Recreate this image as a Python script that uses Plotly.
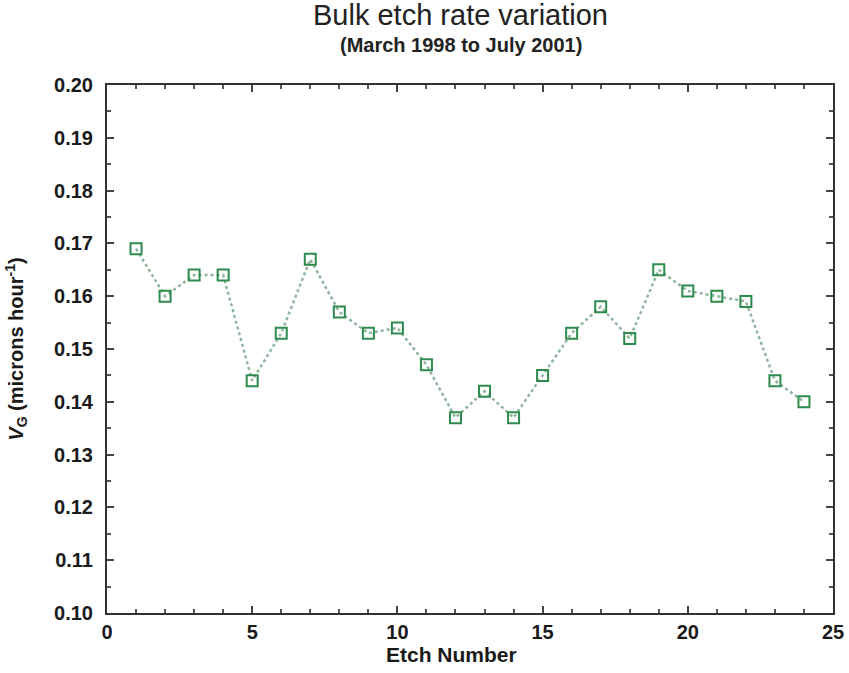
import plotly.graph_objects as go

etch_number = list(range(1, 25))
vg = [0.169, 0.160, 0.164, 0.164, 0.144, 0.153, 0.167, 0.157, 0.153, 0.154,
      0.147, 0.137, 0.142, 0.137, 0.145, 0.153, 0.158, 0.152, 0.165, 0.161,
      0.160, 0.159, 0.144, 0.140]

x_ticks = [0, 5, 10, 15, 20, 25]
y_ticks = [0.10, 0.11, 0.12, 0.13, 0.14, 0.15, 0.16, 0.17, 0.18, 0.19, 0.20]

FONT = "Liberation Sans, Arial, sans-serif"

fig = go.Figure()
fig.add_trace(go.Scatter(
    x=etch_number, y=vg, mode="lines+markers",
    line=dict(color="#8fb59c", width=2.5, dash="dot"),
    marker=dict(symbol="square-open", size=11, color="#2e8b4e", line=dict(width=2, color="#2e8b4e")),
    showlegend=False,
))

axis_common = dict(
    showline=True, linecolor="#333333", linewidth=2, mirror="ticks",
    ticks="inside", tickcolor="#444444", ticklen=7, tickwidth=1.5,
    showgrid=False, zeroline=False, automargin=False,
    tickfont=dict(family=FONT, size=20, color="#1a1a1a", weight="bold"),
)

fig.update_xaxes(
    range=[0, 25], tickvals=x_ticks, ticktext=[str(v) for v in x_ticks],
    minor=dict(dtick=1, ticks="inside", ticklen=4, tickcolor="#555555", showgrid=False),
    ticklabelstandoff=0,
    **axis_common,
)
fig.update_yaxes(
    range=[0.10, 0.20], tickvals=y_ticks, ticktext=[f"{v:.2f}" for v in y_ticks],
    minor=dict(dtick=0.005, ticks="inside", ticklen=4, tickcolor="#555555", showgrid=False),
    ticklabelstandoff=8,
    title=dict(text="<b><i>V</i><sub>G</sub> (microns hour<sup>-1</sup>)</b>",
               font=dict(family=FONT, size=20, color="#1a1a1a"), standoff=25),
    **axis_common,
)

fig.update_layout(
    width=849, height=673,
    margin=dict(l=107, r=16, t=85, b=60),
    paper_bgcolor="white", plot_bgcolor="white",
)
fig.add_annotation(text="<b>Etch Number</b>", xref="paper", yref="paper", x=0.5, y=0.0,
                   xshift=-19, yshift=-41, showarrow=False, yanchor="middle",
                   font=dict(family=FONT, size=21, color="#1a1a1a"))
fig.add_annotation(text="Bulk etch rate variation", xref="paper", yref="paper", x=0.5, y=1.0,
                   xshift=-10, yshift=70, showarrow=False, yanchor="middle",
                   font=dict(family=FONT, size=29, color="#222222"))
fig.add_annotation(text="<b>(March 1998 to July 2001)</b>", xref="paper", yref="paper", x=0.5, y=1.0,
                   xshift=-9, yshift=40, showarrow=False, yanchor="middle",
                   font=dict(family=FONT, size=20, color="#222222"))
fig.write_html("out.html")
